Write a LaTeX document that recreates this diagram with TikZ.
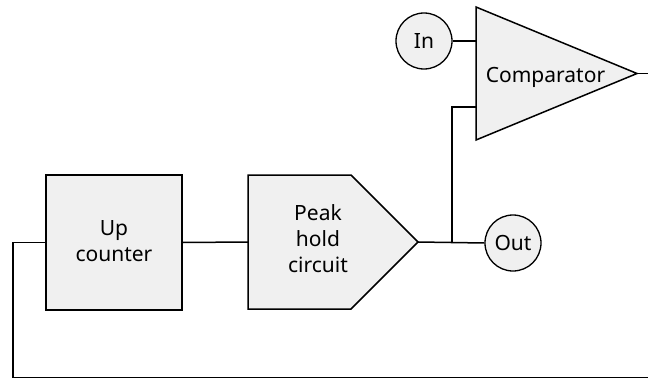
\documentclass[tikz,border=0pt]{standalone}
\usepackage{fontspec}
\setmainfont{Noto Sans}
\definecolor{boxfill}{HTML}{F0F0F0}
\tikzset{
  blk/.style={draw=black, line width=1.5pt, fill=boxfill},
  wire/.style={draw=black, line width=1.5pt},
  term/.style={circle, draw=black, line width=1.3pt, fill=boxfill, minimum size=56pt, inner sep=0pt},
  lbl/.style={align=center, font=\fontsize{21}{26}\selectfont},
}
\begin{document}
\begin{tikzpicture}[x=1pt,y=-1pt]
\useasboundingbox (0,0) rectangle (648,380);
% Up counter
\node[blk, minimum width=136pt, minimum height=135pt] (upc) at (114,242.5) {};
\node[lbl, anchor=base] (upct) at (114,261) {Up\\counter};
% Peak hold circuit
\draw[blk] (248,175) -- (351,175) -- (418,242) -- (351,309) -- (248,309) -- cycle;
\coordinate (peakin) at (248,242);
\coordinate (peakout) at (418,242);
\node[lbl, anchor=base] (peak) at (318,272) {Peak\\hold\\circuit};
% Comparator
\draw[blk] (476,7) -- (637,73.5) -- (476,140) -- cycle;
\coordinate (cmpinA) at (476,41);
\coordinate (cmpinB) at (476,107);
\coordinate (cmpout) at (637,73.5);
\node[lbl, anchor=base] (cmp) at (545.5,82) {Comparator};
% terminals
\node[term, lbl] (in) at (424,41) {In};
\node[term, lbl] (out) at (513,243) {Out};
% loop ends
\coordinate (edgeA) at (648,73.5);
\coordinate (edgeB) at (648,377.5);
\coordinate (jn) at (452,242);
% wires
\draw[wire] (upc.east) -- (peakin);
\draw[wire] (peakout) -- (out.west);
\draw[wire] (jn) -- (jn |- cmpinB) -- (cmpinB);
\draw[wire] (in.east) -- (cmpinA);
\draw[wire] (cmpout) -- (edgeA);
\draw[wire] (upc.west) -- (13,242.5) -- (13,377.5) -- (edgeB);
\end{tikzpicture}
\end{document}
